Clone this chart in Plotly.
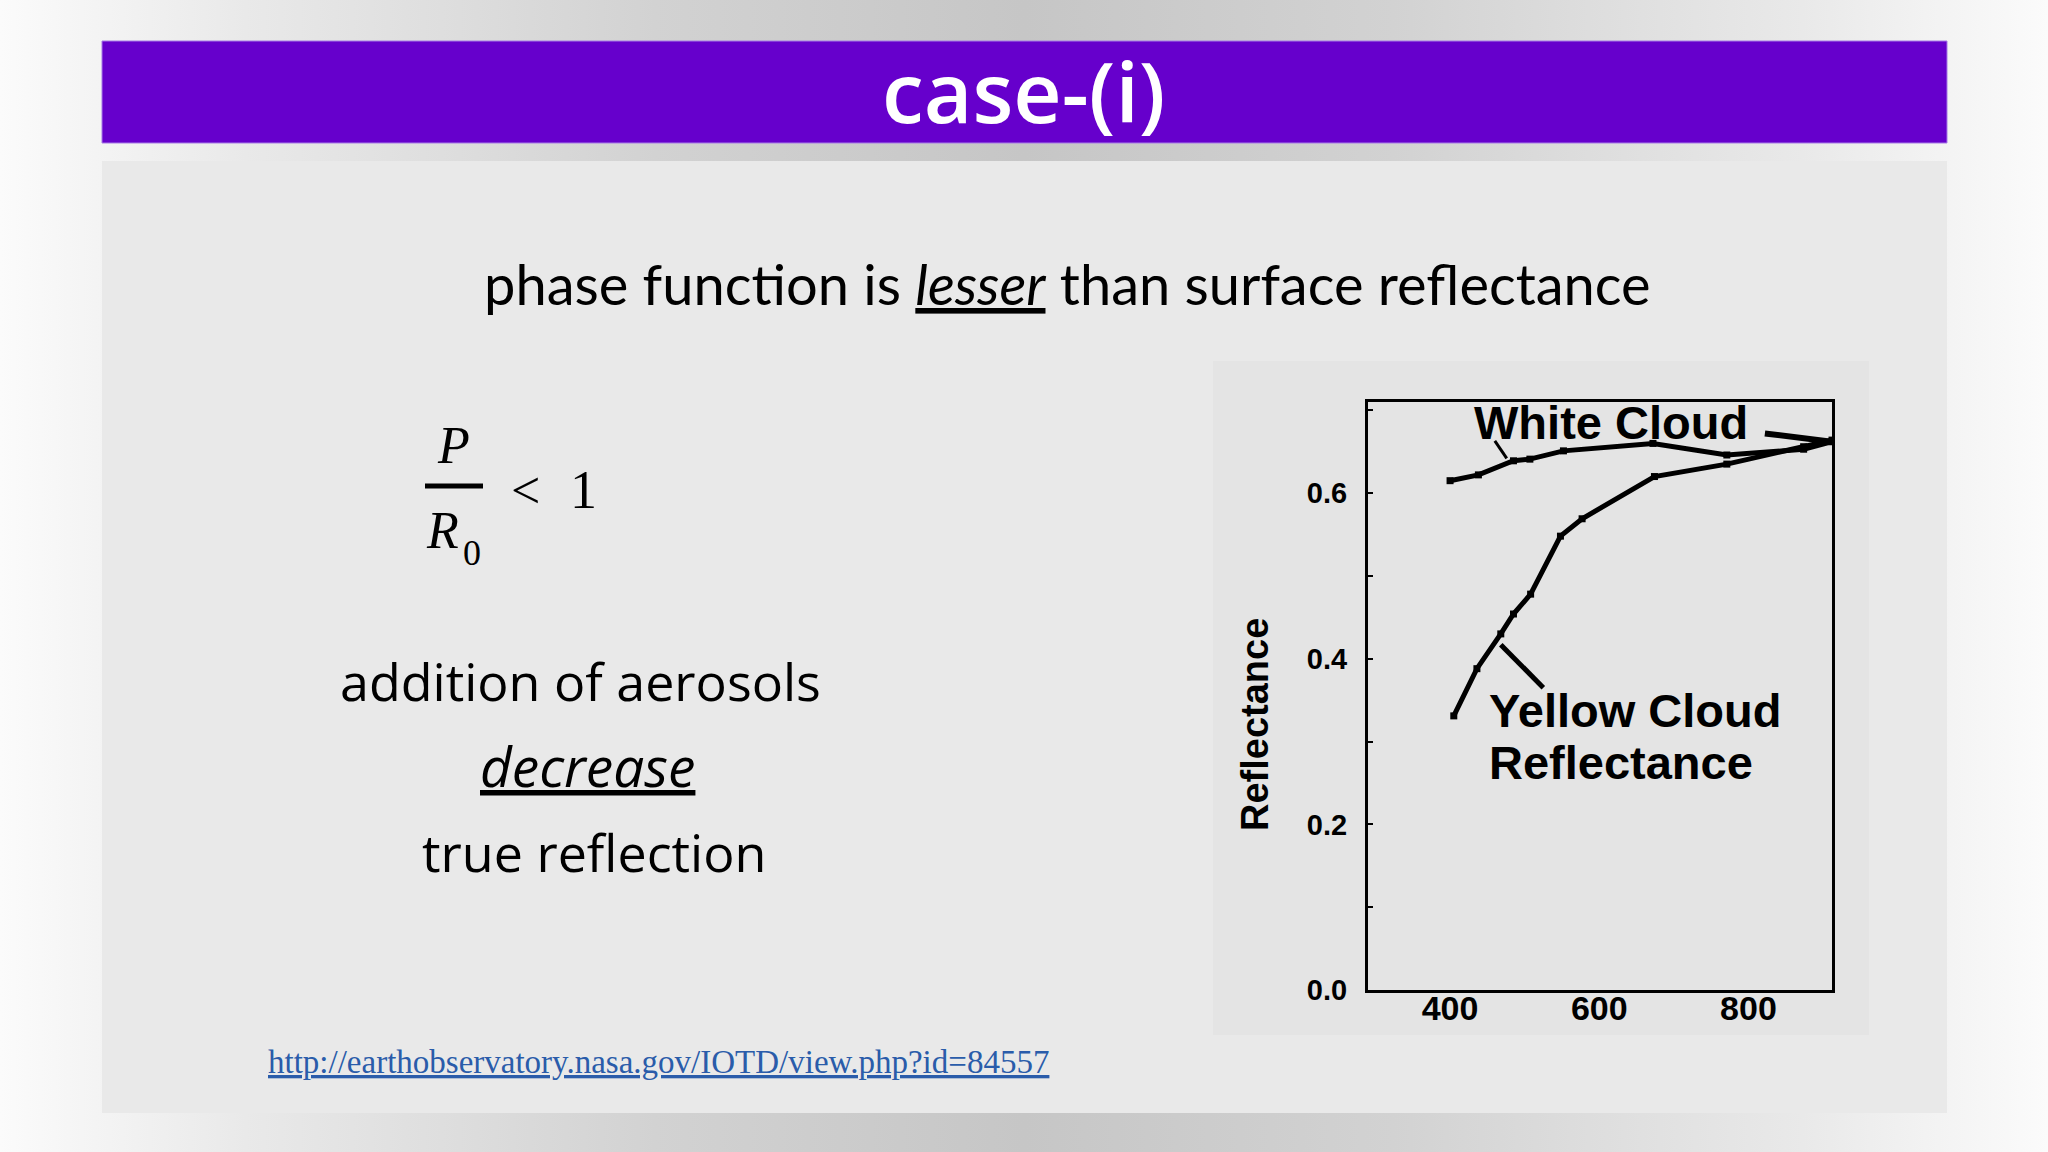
import base64

import plotly.graph_objects as go

# ---- data ----
WHITE_NM = [400, 438, 485, 507, 552, 672, 771, 874, 912]
WHITE_R = [0.615, 0.622, 0.639, 0.641, 0.651, 0.660, 0.646, 0.653, 0.662]

YELLOW_NM = [405, 436, 468, 485, 508, 548, 577, 674, 771, 874, 912]
YELLOW_R = [0.331, 0.388, 0.430, 0.454, 0.478, 0.548, 0.569, 0.620, 0.635, 0.656, 0.664]

# label leader lines
WHITE_LEADER_NM = [460, 476]
WHITE_LEADER_R = [0.663, 0.642]
WHITE_STUB_NM = [822, 912]
WHITE_STUB_R = [0.672, 0.662]
YELLOW_LEADER_NM = [468, 525]
YELLOW_LEADER_R = [0.417, 0.365]

X_TICKS = [400, 600, 800]
Y_TICKS = [0.0, 0.2, 0.4, 0.6]
X_RANGE = [290, 912]
Y_RANGE = [0, 0.71]

# positions below are measured on a 2048x1152 slide; the page itself is a bit taller
REF_W, REF_H = 2048, 1152
PAGE_W, PAGE_H = 2048, 1168


def fx(px):
    return px / REF_W


def fy(py):
    return 1 - py / REF_H


# slide backdrop: soft grey vignette behind the slide
svg = (
    '<svg xmlns="http://www.w3.org/2000/svg" width="2048" height="1152">'
    '<defs><linearGradient id="g" x1="0" y1="0" x2="1" y2="0">'
    '<stop offset="0" stop-color="#fbfbfb"/><stop offset="0.12" stop-color="#e9e9e9"/>'
    '<stop offset="0.32" stop-color="#d2d2d2"/><stop offset="0.5" stop-color="#c6c6c6"/>'
    '<stop offset="0.68" stop-color="#d2d2d2"/><stop offset="0.88" stop-color="#e9e9e9"/>'
    '<stop offset="1" stop-color="#fbfbfb"/></linearGradient></defs>'
    '<rect width="2048" height="1152" fill="url(#g)"/></svg>'
)
bg_src = "data:image/svg+xml;base64," + base64.b64encode(svg.encode()).decode()

fig = go.Figure()

line_style = dict(color="black", width=5)
fig.add_trace(go.Scatter(x=WHITE_NM, y=WHITE_R, mode="lines+markers", line=line_style,
                         marker=dict(symbol="square", size=7, color="black"), name="White Cloud"))
fig.add_trace(go.Scatter(x=YELLOW_NM, y=YELLOW_R, mode="lines+markers", line=line_style,
                         marker=dict(symbol="square", size=7, color="black"), name="Yellow Cloud"))
fig.add_trace(go.Scatter(x=WHITE_LEADER_NM, y=WHITE_LEADER_R, mode="lines",
                         line=dict(color="black", width=3)))
fig.add_trace(go.Scatter(x=WHITE_STUB_NM, y=WHITE_STUB_R, mode="lines",
                         line=dict(color="black", width=6)))
fig.add_trace(go.Scatter(x=YELLOW_LEADER_NM, y=YELLOW_LEADER_R, mode="lines",
                         line=dict(color="black", width=5)))

bold_arial = dict(family="Liberation Sans, Arial", color="black", weight="bold")

fig.update_layout(
    width=PAGE_W, height=PAGE_H,
    margin=dict(l=0, r=0, t=0, b=0),
    paper_bgcolor="#e9e9e9",
    plot_bgcolor="rgba(0,0,0,0)",
    showlegend=False,
    images=[dict(source=bg_src, xref="paper", yref="paper", x=0, y=1, sizex=1, sizey=1,
                 sizing="stretch", xanchor="left", yanchor="top", layer="below")],
    xaxis=dict(domain=[fx(1368), fx(1832)], range=X_RANGE, tickvals=X_TICKS,
               showline=True, linewidth=3, linecolor="black", mirror=True,
               showgrid=False, zeroline=False, ticks="",
               tickfont=dict(size=34, **bold_arial), ticklabelstandoff=-14),
    yaxis=dict(domain=[fy(990), fy(402)], range=Y_RANGE, tickvals=Y_TICKS, tickformat=".1f",
               showline=True, linewidth=3, linecolor="black", mirror=True,
               showgrid=False, zeroline=False, ticks="inside", ticklen=5, tickwidth=2,
               tickcolor="black", minor=dict(ticks="inside", dtick=0.1, ticklen=5, tickwidth=2,
                                             tickcolor="black"),
               tickfont=dict(size=29, **bold_arial), ticklabelstandoff=12),
)

shapes = [
    # slide body
    dict(type="rect", xref="paper", yref="paper", x0=fx(102), x1=fx(1947), y0=fy(1113), y1=fy(161),
         fillcolor="#e9e9e9", line=dict(width=0), layer="below"),
    # title bar
    dict(type="rect", xref="paper", yref="paper", x0=fx(102), x1=fx(1947), y0=fy(143), y1=fy(41),
         fillcolor="#6600cc", line=dict(width=1, color="#a77be6"), layer="below"),
    # chart panel
    dict(type="rect", xref="paper", yref="paper", x0=fx(1213), x1=fx(1869), y0=fy(1035), y1=fy(361),
         fillcolor="#e4e4e4", line=dict(width=0), layer="below"),
    # fraction bar P / R0
    dict(type="line", xref="paper", yref="paper", x0=fx(425), x1=fx(483), y0=fy(486), y1=fy(486),
         line=dict(width=5, color="black")),
]
fig.update_layout(shapes=shapes)


def note(text, x, y, size, family, color="black", xanchor="center", weight="normal",
         style="normal", angle=0, ref="paper"):
    fig.add_annotation(text=text, x=x, y=y, xref="paper" if ref == "paper" else "x",
                       yref="paper" if ref == "paper" else "y", showarrow=False,
                       xanchor=xanchor, yanchor="middle", textangle=angle,
                       font=dict(size=size, family=family, color=color, weight=weight, style=style))


# title
note("case-(i)", fx(1023), fy(90), 84, "Open Sans", color="white", weight=600)
# subtitle
note("phase function is <i><u>lesser</u></i> than surface reflectance",
     fx(1067), fy(283), 56, "Lato")
# formula
note("P", fx(453), fy(445), 52, "Liberation Serif", style="italic")
note("R", fx(442), fy(530), 52, "Liberation Serif", style="italic")
note("0", fx(472), fy(553), 36, "Liberation Serif")
note("<", fx(525), fy(490), 52, "Liberation Serif")
note("1", fx(583), fy(490), 54, "Liberation Serif")
# body text
note("addition of aerosols", fx(580), fy(680), 52, "Open Sans")
note("<i><u>decrease</u></i>", fx(587), fy(765), 55, "Open Sans")
note("true reflection", fx(594), fy(851), 52, "Open Sans")
# source link
note("<u>http://earthobservatory.nasa.gov/IOTD/view.php?id=84557</u>",
     fx(658), fy(1062), 33, "Liberation Serif", color="#2a5caa")

# chart labels
note("Reflectance", fx(1255), fy(725), 38, "Liberation Sans, Arial", weight="bold", angle=-90)
note("White Cloud", 429, 0.685, 47, "Liberation Sans, Arial", xanchor="left", weight="bold", ref="data")
note("Yellow Cloud", 449, 0.337, 47, "Liberation Sans, Arial", xanchor="left", weight="bold", ref="data")
note("Reflectance", 449, 0.275, 47, "Liberation Sans, Arial", xanchor="left", weight="bold", ref="data")

# keep the slide flush with the page: no body margin, no scrollbars
page_fix = (
    "document.documentElement.style.margin='0';"
    "document.documentElement.style.overflow='hidden';"
    "document.body.style.margin='0';"
    "document.body.style.overflow='hidden';"
)
fig.write_html("out.html", post_script=page_fix, config={"displayModeBar": False})
